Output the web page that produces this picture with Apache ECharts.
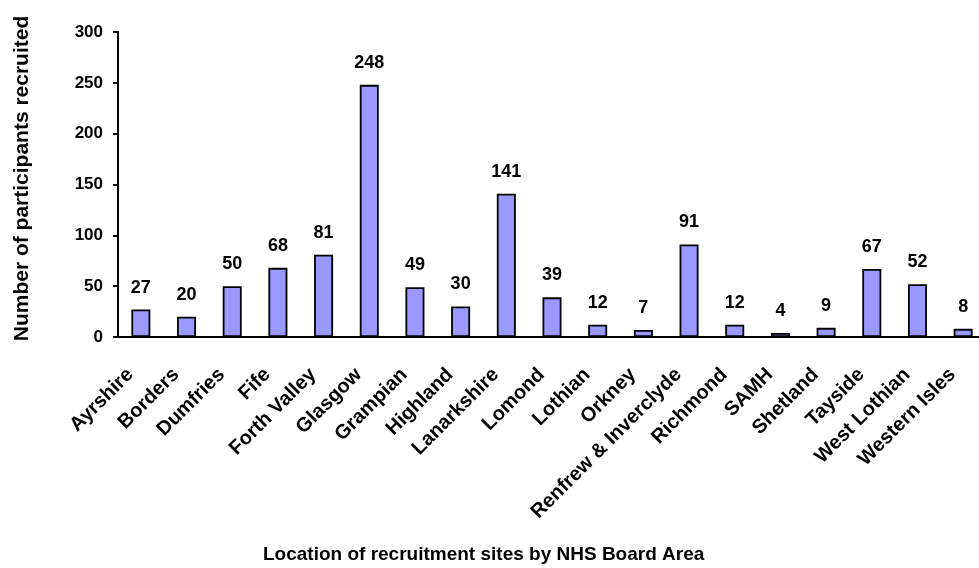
<!DOCTYPE html>
<html>
<head>
<meta charset="utf-8">
<script src="https://cdn.jsdelivr.net/npm/echarts@6/dist/echarts.min.js"></script>
<style>
  html, body { margin: 0; padding: 0; background: #fff; }
  #chart { width: 979px; height: 568px; }
</style>
</head>
<body>
<div id="chart"></div>
<script>
const boards = ['Ayrshire', 'Borders', 'Dumfries', 'Fife', 'Forth Valley', 'Glasgow', 'Grampian', 'Highland',
  'Lanarkshire', 'Lomond', 'Lothian', 'Orkney', 'Renfrew & Inverclyde', 'Richmond', 'SAMH', 'Shetland',
  'Tayside', 'West Lothian', 'Western Isles'];
const recruited = [27, 20, 50, 68, 81, 248, 49, 30, 141, 39, 12, 7, 91, 12, 4, 9, 67, 52, 8];
const yTicks = { min: 0, max: 300, interval: 50 };

const font = 'Liberation Sans, Arial, sans-serif';
const chart = echarts.init(document.getElementById('chart'));

chart.setOption({
  animation: false,
  // x axis title sits centred under the page, not under the plot
  title: {
    text: 'Location of recruitment sites by NHS Board Area',
    left: 263, top: 545, padding: 0,
    textStyle: { fontFamily: font, fontWeight: 'bold', fontSize: 19, color: '#000' }
  },
  grid: { left: 118, top: 32, width: 868, height: 305, containLabel: false, outerBoundsMode: 'none' },
  xAxis: {
    type: 'category',
    data: boards,
    axisLine: { lineStyle: { color: '#000', width: 2 } },
    axisTick: { length: 6, lineStyle: { color: '#000', width: 2 } },
    axisLabel: {
      interval: 0, rotate: 45, margin: 24, padding: [0, 15, 0, 0],
      fontFamily: font, fontWeight: 'bold', fontSize: 20, color: '#000'
    }
  },
  yAxis: {
    type: 'value',
    min: yTicks.min, max: yTicks.max, interval: yTicks.interval,
    name: 'Number of participants recruited',
    nameLocation: 'middle',
    nameGap: 85,
    nameTextStyle: { fontFamily: font, fontWeight: 'bold', fontSize: 21, color: '#000', padding: [0, 0, 0, 12] },
    splitLine: { show: false },
    axisLine: { show: true, lineStyle: { color: '#000', width: 2 } },
    axisTick: { show: true, length: 5, lineStyle: { color: '#000', width: 2 } },
    axisLabel: { margin: 15, fontFamily: font, fontWeight: 'bold', fontSize: 17, color: '#000' }
  },
  series: [{
    type: 'bar',
    data: recruited,
    barWidth: 19,
    itemStyle: { color: '#9999ff', borderColor: '#000', borderWidth: 1.8 },
    label: {
      show: true, position: 'top', distance: 13,
      fontFamily: font, fontWeight: 'bold', fontSize: 18, color: '#000'
    }
  }]
});
</script>
</body>
</html>
